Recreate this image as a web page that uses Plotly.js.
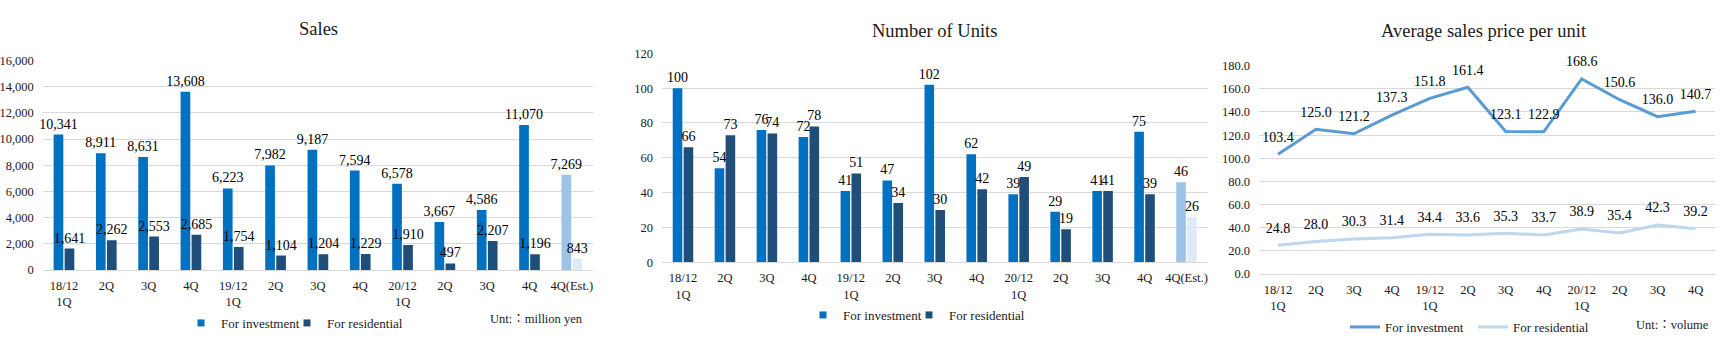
<!DOCTYPE html>
<html>
<head>
<meta charset="utf-8">
<script src="https://cdn.plot.ly/plotly-3.0.1.min.js"></script>
<style>
  html, body { margin: 0; padding: 0; background: #fff; }
  #chart { width: 1728px; height: 350px; }
</style>
</head>
<body>
<div id="chart"></div>
<script>
// ---------------- DATA ----------------
const barTickLabels = ['18/12<br>1Q', '2Q', '3Q', '4Q', '19/12<br>1Q', '2Q', '3Q', '4Q', '20/12<br>1Q', '2Q', '3Q', '4Q', '4Q(Est.)'];
const isEstimate = [false, false, false, false, false, false, false, false, false, false, false, false, true];

const salesInvestment = [10341, 8911, 8631, 13608, 6223, 7982, 9187, 7594, 6578, 3667, 4586, 11070, 7269];
const salesResidential = [1641, 2262, 2553, 2685, 1754, 1104, 1204, 1229, 1910, 497, 2207, 1196, 843];

const unitsInvestment = [100, 54, 76, 72, 41, 47, 102, 62, 39, 29, 41, 75, 46];
const unitsResidential = [66, 73, 74, 78, 51, 34, 30, 42, 49, 19, 41, 39, 26];

const priceTickLabels = ['18/12<br>1Q', '2Q', '3Q', '4Q', '19/12<br>1Q', '2Q', '3Q', '4Q', '20/12<br>1Q', '2Q', '3Q', '4Q'];
const priceInvestment = [103.4, 125.0, 121.2, 137.3, 151.8, 161.4, 123.1, 122.9, 168.6, 150.6, 136.0, 140.7];
const priceResidential = [24.8, 28.0, 30.3, 31.4, 34.4, 33.6, 35.3, 33.7, 38.9, 35.4, 42.3, 39.2];

const seriesNames = ['For investment', 'For residential'];
const chartTitles = ['Sales', 'Number of Units', 'Average sales price per unit'];
const unitNotes = ['Unt:：million yen', 'Unt:：volume'];

// ---------------- STYLE ----------------
const FONT = '"Liberation Serif", "Times New Roman", "Noto Sans CJK JP", serif';
const C_INV = '#0070C0', C_RES = '#1F4E79';
const C_INV_EST = '#9DC3E6', C_RES_EST = '#DEEBF7';
const C_LINE_INV = '#5B9BD5', C_LINE_RES = '#BDD7EE';
const GRID = '#D9D9D9';
const TXT = '#1a1a1a';

const W = 1728, H = 350;
const px = v => v / W;
const py = v => (H - v) / H;

const barIdx = barTickLabels.map((_, i) => i);
const priceIdx = priceTickLabels.map((_, i) => i);
const invColors = isEstimate.map(e => e ? C_INV_EST : C_INV);
const resColors = isEstimate.map(e => e ? C_RES_EST : C_RES);

function barTrace(x, y, colors, xa, ya, fmt) {
  return {
    type: 'bar', x: x, y: y, xaxis: xa, yaxis: ya,
    marker: { color: colors },
    texttemplate: fmt, textposition: 'outside', constraintext: 'none', textangle: 0,
    cliponaxis: false,
    textfont: { family: FONT, size: 14, color: '#000' },
    showlegend: false, hoverinfo: 'skip'
  };
}
function legendSquare(name, color, legendId) {
  return {
    type: 'scatter', mode: 'markers', x: [null], y: [null], xaxis: 'x', yaxis: 'y',
    name: name, legend: legendId,
    marker: { symbol: 'square', size: 7, color: color }, showlegend: true, hoverinfo: 'skip'
  };
}
function lineTrace(y, color, name, legendId) {
  return {
    type: 'scatter', mode: 'lines+markers+text', x: priceIdx, y: y, xaxis: 'x3', yaxis: 'y3',
    name: name, legend: legendId,
    line: { color: color, width: 3 },
    marker: { size: 13, color: 'rgba(0,0,0,0)', line: { width: 0 } },
    texttemplate: '%{y:.1f}', textposition: 'top center',
    textfont: { family: FONT, size: 14, color: '#000' },
    cliponaxis: false, hoverinfo: 'skip'
  };
}

const data = [
  barTrace(barIdx, salesInvestment, invColors, 'x', 'y', '%{y:,}'),
  barTrace(barIdx, salesResidential, resColors, 'x', 'y', '%{y:,}'),
  barTrace(barIdx, unitsInvestment, invColors, 'x2', 'y2', '%{y}'),
  barTrace(barIdx, unitsResidential, resColors, 'x2', 'y2', '%{y}'),
  legendSquare(seriesNames[0], C_INV, 'legend'),
  legendSquare(seriesNames[1], C_RES, 'legend2'),
  legendSquare(seriesNames[0], C_INV, 'legend3'),
  legendSquare(seriesNames[1], C_RES, 'legend4'),
  lineTrace(priceInvestment, C_LINE_INV, seriesNames[0], 'legend5'),
  lineTrace(priceResidential, C_LINE_RES, seriesNames[1], 'legend6')
];

function xAxis(domain, vals, labels) {
  return {
    domain: domain, range: [-0.5, vals.length - 0.5], tickvals: vals, ticktext: labels,
    showgrid: false, zeroline: false, showline: true, linecolor: GRID, linewidth: 1,
    ticks: '', ticklabelstandoff: 4,
    tickfont: { family: FONT, size: 12.5, color: TXT }, fixedrange: true
  };
}
function yAxis(domain, range, dtick, fmt, anchor) {
  return {
    domain: domain, range: range, dtick: dtick, tickformat: fmt, anchor: anchor,
    showgrid: true, gridcolor: GRID, gridwidth: 1, zeroline: false, showline: false,
    ticks: '', ticklabelstandoff: 8,
    tickfont: { family: FONT, size: 12.5, color: TXT }, fixedrange: true
  };
}
function legendAt(textX, textY) {
  return {
    x: px(textX - 40), y: py(textY), xanchor: 'left', yanchor: 'middle',
    orientation: 'h', bgcolor: 'rgba(0,0,0,0)', borderwidth: 0,
    font: { family: FONT, size: 13, color: TXT }, itemclick: false, itemdoubleclick: false
  };
}
function note(text, x, y, size, anchor) {
  return {
    text: text, xref: 'paper', yref: 'paper', x: px(x), y: py(y),
    xanchor: anchor || 'center', yanchor: 'middle', showarrow: false,
    font: { family: FONT, size: size, color: TXT }
  };
}

const layout = {
  width: W, height: H,
  margin: { l: 0, r: 0, t: 0, b: 0 },
  paper_bgcolor: '#fff', plot_bgcolor: '#fff',
  barmode: 'group', bargap: 0.48, bargroupgap: 0.12,
  separators: '.,',
  xaxis: xAxis([px(42.8), px(593)], barIdx, barTickLabels),
  yaxis: yAxis([py(270), py(60.4)], [0, 16000], 2000, ',', 'x'),
  xaxis2: Object.assign(xAxis([px(662), px(1207.5)], barIdx, barTickLabels), { anchor: 'y2' }),
  yaxis2: yAxis([py(262.3), py(53.3)], [0, 120], 20, 'd', 'x2'),
  xaxis3: Object.assign(xAxis([px(1259), px(1714.5)], priceIdx, priceTickLabels), { anchor: 'y3' }),
  yaxis3: yAxis([py(274), py(65.7)], [0, 180], 20, '.1f', 'x3'),
  legend: legendAt(221, 323),
  legend2: legendAt(327, 323),
  legend3: legendAt(843, 315),
  legend4: legendAt(949, 315),
  legend5: legendAt(1385, 327),
  legend6: legendAt(1513, 327),
  annotations: [
    note(chartTitles[0], 318, 29, 18.5),
    note(chartTitles[1], 935, 30.7, 18.5),
    note(chartTitles[2], 1484, 31, 18.5),
    note(unitNotes[0], 488, 319, 12.5, 'left'),
    note(unitNotes[1], 1634, 325, 12.5, 'left')
  ],
  showlegend: true
};
layout.xaxis.anchor = 'y';

Plotly.newPlot('chart', data, layout, { displayModeBar: false, staticPlot: true });
</script>
</body>
</html>
